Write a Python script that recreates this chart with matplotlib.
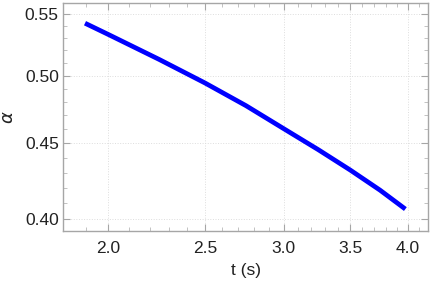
import numpy as np
import matplotlib.pyplot as plt
from matplotlib.ticker import FixedLocator, FormatStrFormatter, NullFormatter

# values (log-log axes)
t_vals = [1.895, 2.0, 2.25, 2.5, 2.75, 3.0, 3.25, 3.5, 3.75, 3.976]
alpha_vals = [0.5424, 0.5330, 0.5127, 0.4944, 0.4772, 0.4605, 0.4457, 0.4318, 0.4185, 0.4064]

x_ticks = [2.0, 2.5, 3.0, 3.5, 4.0]
y_ticks = [0.40, 0.45, 0.50, 0.55]
x_minor = [1.9, 2.1, 2.2, 2.3, 2.4, 2.6, 2.7, 2.8, 2.9, 3.1, 3.2, 3.3, 3.4, 3.6, 3.7, 3.8, 3.9, 4.1]
y_minor = [0.41, 0.42, 0.43, 0.44, 0.46, 0.47, 0.48, 0.49, 0.51, 0.52, 0.53, 0.54]

plt.rcParams['font.family'] = ['Liberation Sans', 'DejaVu Sans']

fig = plt.figure(figsize=(4.36, 2.82), dpi=100)
ax = fig.add_axes([0.1445, 0.1809, 0.8372, 0.8085])

ax.plot(t_vals, alpha_vals, color='#0000ff', lw=3.4, solid_capstyle='butt')

ax.set_xscale('log')
ax.set_yscale('log')
ax.set_xlim(1.801, 4.19)
ax.set_ylim(0.3928, 0.5597)

ax.xaxis.set_major_locator(FixedLocator(x_ticks))
ax.xaxis.set_major_formatter(FormatStrFormatter('%.1f'))
ax.xaxis.set_minor_locator(FixedLocator(x_minor))
ax.xaxis.set_minor_formatter(NullFormatter())
ax.yaxis.set_major_locator(FixedLocator(y_ticks))
ax.yaxis.set_major_formatter(FormatStrFormatter('%.2f'))
ax.yaxis.set_minor_locator(FixedLocator(y_minor))
ax.yaxis.set_minor_formatter(NullFormatter())

ax.grid(True, which='major', color='#dddddd', lw=0.7, ls=':')
for s in ax.spines.values():
    s.set_color('#a6a6a6')
    s.set_linewidth(1.0)
ax.tick_params(which='major', direction='in', length=5, color='#a6a6a6',
               labelsize=12.5, labelcolor='#222222', top=True, right=True)
ax.tick_params(axis='x', which='major', pad=7)
ax.tick_params(axis='y', which='major', pad=3)
ax.tick_params(which='minor', direction='in', length=3, color='#b8b8b8', top=True, right=True)

ax.set_xlabel('t (s)', fontsize=12.5, color='#222222', labelpad=5)
ax.set_ylabel(r'$\alpha$', fontsize=13, color='#222222', labelpad=6)

fig.savefig('out.png', dpi=100)
